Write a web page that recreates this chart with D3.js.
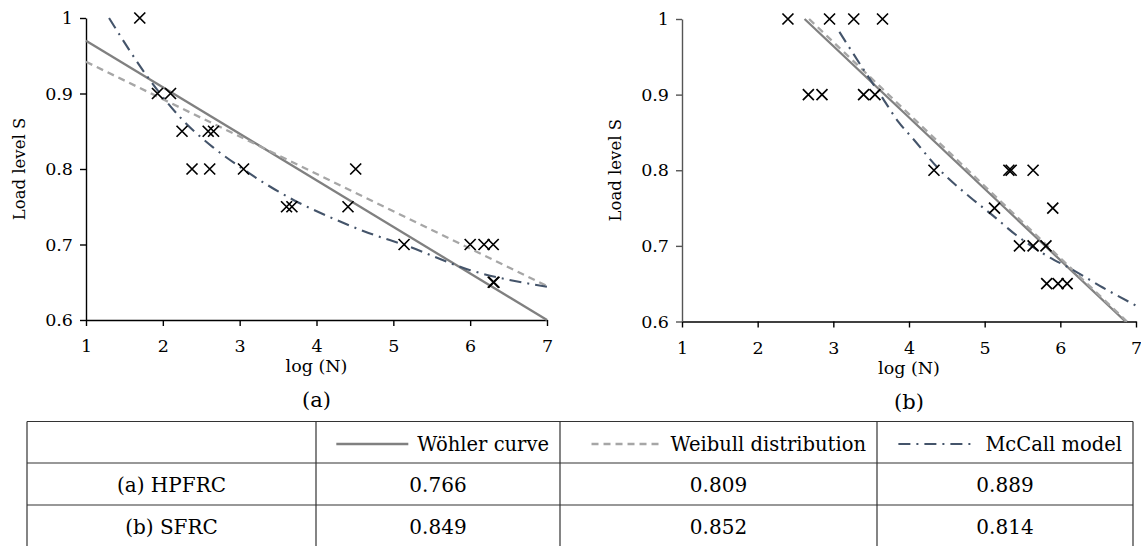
<!DOCTYPE html>
<html>
<head>
<meta charset="utf-8">
<script src="https://cdn.jsdelivr.net/npm/d3@7"></script>
<style>
  html, body { margin: 0; padding: 0; background: #fff; }
  svg { display: block; }
  text { font-family: "DejaVu Serif", serif; fill: #000; }
</style>
</head>
<body>
<svg id="fig" width="1141" height="546"></svg>
<script>
// Axis ticks shared by both panels
const ticksX = [1, 2, 3, 4, 5, 6, 7];
const ticksY = [0.6, 0.7, 0.8, 0.9, 1];

// (a) HPFRC test results: log(N) and load level S
const hpfrcLogN = [1.70, 1.93, 2.10, 2.25, 2.59, 2.66, 2.38, 2.61, 3.05, 4.51,
                   3.61, 3.68, 4.41, 5.14, 6.00, 6.18, 6.30, 6.30, 6.31];
const hpfrcS    = [1.00, 0.90, 0.90, 0.85, 0.85, 0.85, 0.80, 0.80, 0.80, 0.80,
                   0.75, 0.75, 0.75, 0.70, 0.70, 0.70, 0.70, 0.65, 0.65];

// (b) SFRC test results
const sfrcLogN = [2.40, 2.95, 3.27, 3.65, 2.67, 2.85, 3.40, 3.55, 4.33, 5.32,
                  5.35, 5.64, 5.13, 5.90, 5.46, 5.64, 5.81, 5.82, 5.97, 6.09];
const sfrcS    = [1.00, 1.00, 1.00, 1.00, 0.90, 0.90, 0.90, 0.90, 0.80, 0.80,
                  0.80, 0.80, 0.75, 0.75, 0.70, 0.70, 0.70, 0.65, 0.65, 0.65];

// Fitted curves, panel (a)
const wohlerLogNA  = [1.00, 7.00];
const wohlerSA     = [0.970, 0.600];
const weibullLogNA = [1.00, 7.00];
const weibullSA    = [0.942, 0.645];
const mccallLogNA  = [1.30, 1.83, 2.22, 2.65, 3.00, 3.70, 4.18, 4.74, 5.13, 6.00, 7.00];
const mccallSA     = [1.000, 0.918, 0.869, 0.829, 0.803, 0.759, 0.736, 0.713, 0.700, 0.666, 0.644];

// Fitted curves, panel (b)
const wohlerLogNB  = [2.62, 6.86];
const wohlerSB     = [1.000, 0.600];
const weibullLogNB = [2.68, 6.88];
const weibullSB    = [1.000, 0.600];
const mccallLogNB  = [3.08, 3.42, 3.64, 3.86, 4.05, 4.41, 4.80, 5.11, 5.42, 5.77, 6.17, 6.56, 7.00];
const mccallSB     = [0.983, 0.930, 0.897, 0.864, 0.842, 0.800, 0.765, 0.740, 0.714, 0.690, 0.668, 0.645, 0.621];

// Coefficients of determination table
const modelNames = ["Wöhler curve", "Weibull distribution", "McCall model"];
const materials  = ["(a) HPFRC", "(b) SFRC"];
const r2HPFRC    = [0.766, 0.809, 0.889];
const r2SFRC     = [0.849, 0.852, 0.814];

const zip = (xs, ys) => xs.map((x, i) => ({ x, y: ys[i] }));

const styles = {
  wohler:  { stroke: "#808080", width: 2.3, dash: null },
  weibull: { stroke: "#a6a6a6", width: 2.3, dash: "7,5" },
  mccall:  { stroke: "#44546a", width: 2.1, dash: "12,6,2,6" }
};

const svg = d3.select("#fig");

function drawPanel(cfg) {
  const x = d3.scaleLinear().domain([1, 7]).range([cfg.left, cfg.right]);
  const y = d3.scaleLinear().domain([0.6, 1]).range([cfg.bottom, cfg.top]);
  const g = svg.append("g");

  // axes
  const ax = g.append("g").attr("transform", `translate(0,${cfg.bottom})`)
    .call(d3.axisBottom(x).tickValues(ticksX).tickFormat(d3.format("d")).tickSize(6).tickSizeOuter(0));
  const ay = g.append("g").attr("transform", `translate(${cfg.left},0)`)
    .call(d3.axisLeft(y).tickValues(ticksY).tickFormat(d => d === 1 ? "1" : d3.format(".1f")(d)).tickSize(6).tickSizeOuter(0));
  ax.select(".domain").attr("stroke", "#000").attr("stroke-width", 1.4);
  ax.selectAll(".tick line").attr("stroke", "#000").attr("stroke-width", 1.4);
  ay.select(".domain").attr("stroke", cfg.yAxisColor).attr("stroke-width", 1.4);
  ay.selectAll(".tick line").attr("stroke", cfg.yAxisColor).attr("stroke-width", 1.4);
  [ax, ay].forEach(a => a.selectAll(".tick text")
    .style("font-family", "DejaVu Serif").style("font-size", "17.5px").attr("fill", "#000"));
  ax.selectAll(".tick text").attr("dy", "0.71em").attr("y", 20);
  ay.selectAll(".tick text").attr("x", -13);

  // axis titles
  g.append("text")
    .attr("x", (cfg.left + cfg.right) / 2).attr("y", cfg.bottom + 52)
    .attr("text-anchor", "middle").style("font-size", "17.5px").text("log (N)");
  g.append("text")
    .attr("transform", `translate(${cfg.left - 61},${(cfg.top + cfg.bottom) / 2}) rotate(-90)`)
    .attr("text-anchor", "middle").style("font-size", "16.5px").text("Load level S");
  g.append("text")
    .attr("x", (cfg.left + cfg.right) / 2).attr("y", cfg.bottom + 87)
    .attr("text-anchor", "middle").style("font-size", "21px").text(cfg.letter);

  // fitted curves
  const line = d3.line().x(d => x(d.x)).y(d => y(d.y)).curve(d3.curveMonotoneX);
  cfg.curves.forEach(c => {
    const st = styles[c.kind];
    g.append("path").datum(zip(c.xs, c.ys))
      .attr("d", line).attr("fill", "none")
      .attr("stroke", st.stroke).attr("stroke-width", st.width)
      .attr("stroke-dasharray", st.dash);
  });

  // specimen markers (X)
  const r = 5.5;
  g.append("g").selectAll("path").data(zip(cfg.xs, cfg.ys)).join("path")
    .attr("transform", d => `translate(${x(d.x)},${y(d.y)})`)
    .attr("d", `M${-r},${-r}L${r},${r}M${-r},${r}L${r},${-r}`)
    .attr("stroke", "#000").attr("stroke-width", 1.7).attr("fill", "none");
}

drawPanel({
  left: 86, right: 547, top: 18, bottom: 320, letter: "(a)", yAxisColor: "#000",
  xs: hpfrcLogN, ys: hpfrcS,
  curves: [
    { kind: "wohler", xs: wohlerLogNA, ys: wohlerSA },
    { kind: "weibull", xs: weibullLogNA, ys: weibullSA },
    { kind: "mccall", xs: mccallLogNA, ys: mccallSA }
  ]
});

drawPanel({
  left: 682, right: 1136, top: 19, bottom: 321.5, letter: "(b)", yAxisColor: "#555",
  xs: sfrcLogN, ys: sfrcS,
  curves: [
    { kind: "wohler", xs: wohlerLogNB, ys: wohlerSB },
    { kind: "weibull", xs: weibullLogNB, ys: weibullSB },
    { kind: "mccall", xs: mccallLogNB, ys: mccallSB }
  ]
});

// ---- table of fit quality ----
const colEdges = [27, 316, 560, 877, 1133];
const rowEdges = [421.5, 463, 505, 546.5];
const tbl = svg.append("g");
const gridColor = "#333";

rowEdges.forEach(yy => tbl.append("line")
  .attr("x1", colEdges[0]).attr("x2", colEdges[colEdges.length - 1])
  .attr("y1", yy).attr("y2", yy).attr("stroke", gridColor).attr("stroke-width", 1.2));
colEdges.forEach(xx => tbl.append("line")
  .attr("x1", xx).attr("x2", xx)
  .attr("y1", rowEdges[0]).attr("y2", rowEdges[rowEdges.length - 1])
  .attr("stroke", gridColor).attr("stroke-width", 1.2));

// header: legend sample + model name, right aligned in each cell
const legendKinds = ["wohler", "weibull", "mccall"];
const legendLen = [72, 70, 78];
modelNames.forEach((name, i) => {
  const xr = colEdges[i + 2] - 11;
  const t = tbl.append("text").attr("x", xr).attr("y", 451)
    .attr("text-anchor", "end").style("font-size", "19.5px").text(name);
  const w = t.node().getComputedTextLength();
  const st = styles[legendKinds[i]];
  const xEnd = xr - w - 9;
  tbl.append("line").attr("x1", xEnd - legendLen[i]).attr("x2", xEnd)
    .attr("y1", 444).attr("y2", 444)
    .attr("stroke", st.stroke).attr("stroke-width", st.width)
    .attr("stroke-dasharray", st.dash);
});

const rowsData = [r2HPFRC, r2SFRC];
materials.forEach((m, r) => {
  const yb = [492, 534][r];
  tbl.append("text").attr("x", (colEdges[0] + colEdges[1]) / 2).attr("y", yb)
    .attr("text-anchor", "middle").style("font-size", "20px").text(m);
  rowsData[r].forEach((v, c) => {
    tbl.append("text").attr("x", (colEdges[c + 1] + colEdges[c + 2]) / 2).attr("y", yb)
      .attr("text-anchor", "middle").style("font-size", "20px").text(d3.format(".3f")(v));
  });
});
</script>
</body>
</html>
